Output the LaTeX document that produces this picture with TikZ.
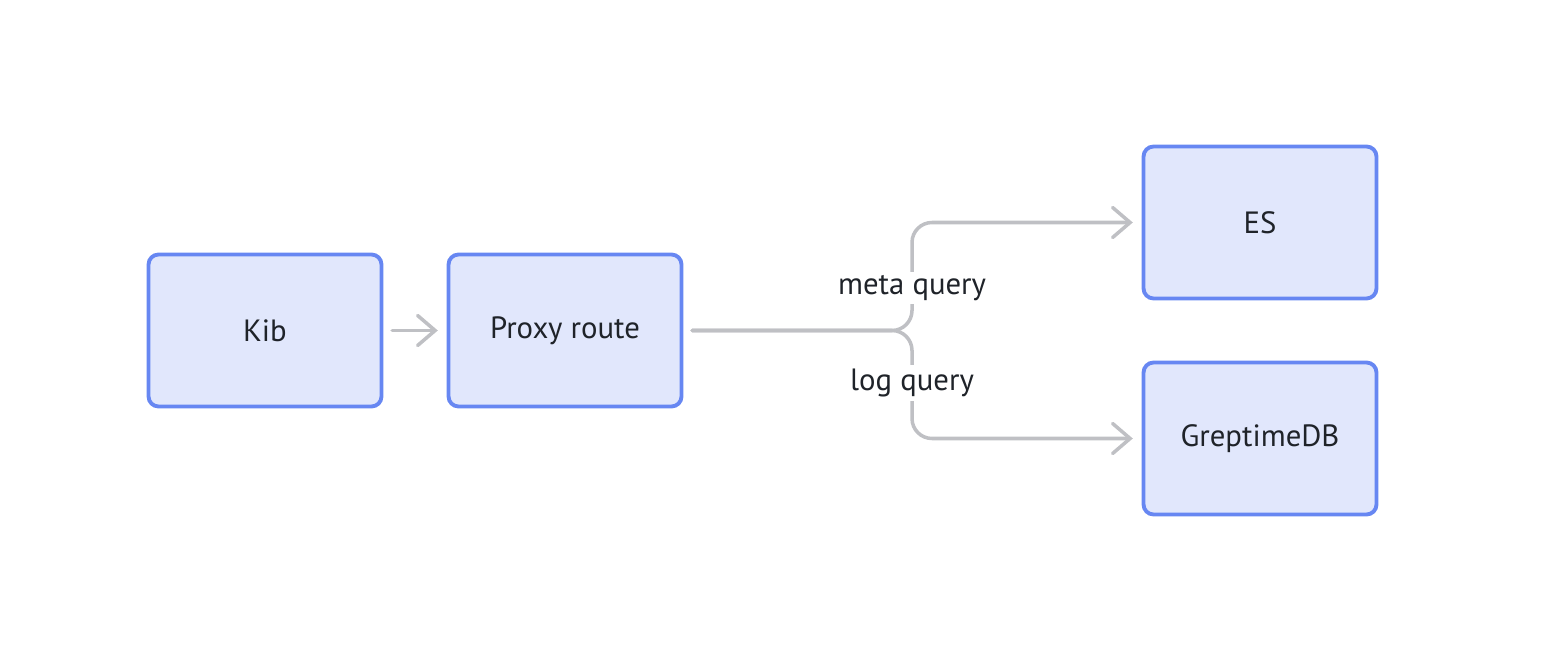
\documentclass[tikz,border=0pt]{standalone}
\usepackage{fontspec}
\setmainfont{PT Sans}
\usetikzlibrary{arrows.meta}

\definecolor{boxline}{HTML}{6787F2}
\definecolor{boxfill}{HTML}{E1E7FC}
\definecolor{linkgray}{HTML}{BFC0C4}
\definecolor{txt}{HTML}{1F2329}

\tikzset{
    service/.style={draw=boxline, fill=boxfill, line width=2.2pt, rounded corners=0.2cm,
        minimum width=4.66cm, minimum height=3.04cm, text=txt,
        font=\fontsize{17.5}{20}\selectfont},
    link/.style={draw=linkgray, line width=2pt, line cap=round, rounded corners=0.4cm,
        shorten <=5pt, shorten >=5pt,
        -{Straight Barb[length=3.5mm, width=6mm, line cap=round]}},
    linklabel/.style={fill=white, text=txt, inner sep=2pt, font=\fontsize{17.5}{20}\selectfont}
}

\begin{document}
\begin{tikzpicture}[x=0.02cm, y=-0.02cm]

    % Canvas of the picture (pixel units, y downwards)
    \useasboundingbox (0, 0) rectangle (1554, 648);

    % The four services
    \node[service] (kib) at (265, 330.5) {Kib};
    \node[service] (proxy) at (565, 330.5) {Proxy route};
    \node[service] (es) at (1260, 222.5) {ES};
    \node[service] (greptime) at (1260, 438.5) {GreptimeDB};

    % Point where the route splits
    \coordinate (fork) at (912, 330.5);

    % Kib sends everything to the proxy
    \draw[link] (kib) -- (proxy);

    % Meta queries go up to ES
    \draw[link] (proxy.east) -- (fork) |- (es.west);

    % Log queries go down to GreptimeDB
    \draw[link] (proxy.east) -- (fork) |- (greptime.west);

    % Labels on the two branches
    \node[linklabel] (meta) at (912, 288) {meta query};
    \node[linklabel] (log) at (912, 383) {log query};

\end{tikzpicture}
\end{document}
